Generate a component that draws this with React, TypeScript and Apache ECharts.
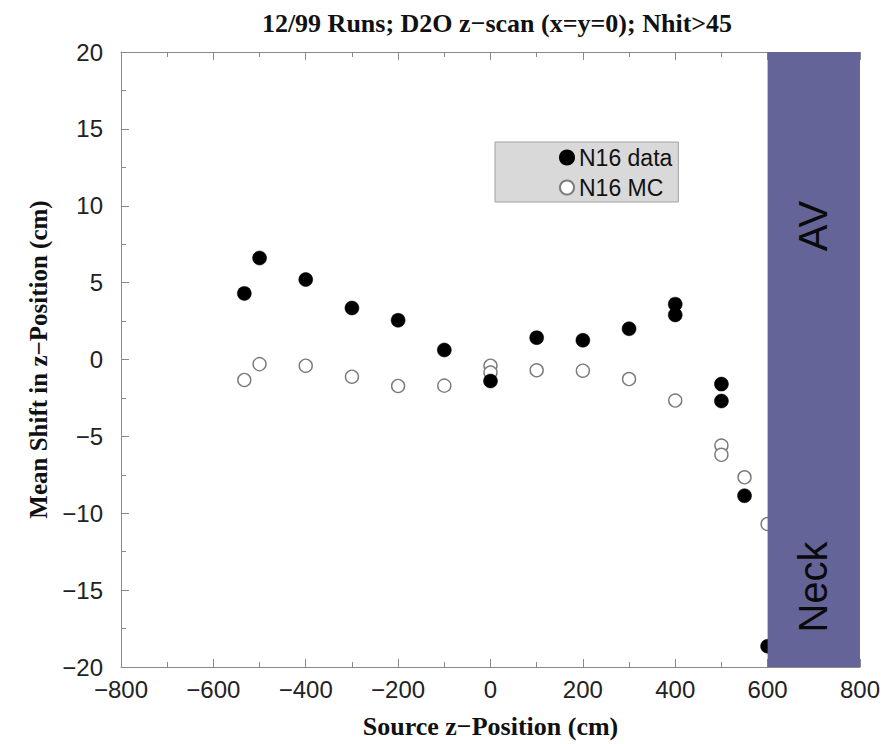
import React, { useEffect, useRef } from "react";
import * as echarts from "echarts";

const titleText = "12/99 Runs; D2O z\u2212scan (x=y=0); Nhit>45";
const xName = "Source z\u2212Position (cm)";
const yName = "Mean Shift in z\u2212Position (cm)";

const dataX = [-533, -500, -400, -300, -200, -100, 0, 100, 200, 300, 400, 400, 500, 500, 550, 600];
const dataY = [4.3, 6.6, 5.2, 3.35, 2.55, 0.62, -1.4, 1.42, 1.25, 2.0, 3.6, 2.9, -1.6, -2.7, -8.86, -18.65];

const mcX = [-533, -500, -400, -300, -200, -100, 0, 0, 100, 200, 300, 400, 500, 500, 550, 600];
const mcY = [-1.33, -0.3, -0.4, -1.12, -1.72, -1.7, -0.4, -0.85, -0.7, -0.73, -1.27, -2.67, -5.6, -6.2, -7.66, -10.7];

const regionX = [600, 800];
const regionLabels = ["AV", "Neck"];
const seriesNames = ["N16 data", "N16 MC"];

const minus = (v: number) => String(v).replace("-", "\u2212");

export default function App() {
  const ref = useRef<HTMLDivElement>(null);
  useEffect(() => {
    if (!ref.current) return;
    const chart = echarts.init(ref.current, undefined, { renderer: "svg" });
    const axisLine = { show: true, onZero: false, lineStyle: { color: "#8a8a8a", width: 1 } };
    const labelFont = { fontFamily: "Liberation Sans", fontSize: 24, color: "#222" };
    const nameFont = { fontFamily: "Liberation Serif", fontWeight: "bold" as const, fontSize: 25, color: "#111" };
    const tick = { show: true, inside: true, length: 8, lineStyle: { color: "#8a8a8a" } };
    const minorTick = { show: true, splitNumber: 2, length: 5, lineStyle: { color: "#8a8a8a" } };
    chart.setOption({
      animation: false,
      backgroundColor: "#fff",
      title: {
        text: titleText,
        left: 492,
        textAlign: "center",
        top: 5,
        textStyle: { fontFamily: "Liberation Serif", fontWeight: "bold", fontSize: 26, color: "#111" },
      },
      grid: { left: 121, right: 21, top: 52, bottom: 72, containLabel: false },
      legend: {
        orient: "vertical",
        left: 495,
        top: 142,
        padding: [4, 6, 3, 64],
        itemGap: 7,
        itemWidth: 14,
        itemHeight: 14,
        itemTextGap: 5,
        backgroundColor: "#d9d9d9",
        borderColor: "#a0a0a0",
        borderWidth: 1,
        borderRadius: 0,
        textStyle: { fontFamily: "Liberation Sans", fontSize: 23, color: "#111" },
        data: seriesNames.map((n) => ({ name: n, icon: "circle" })),
      },
      xAxis: [
        {
          type: "value",
          min: -800,
          max: 800,
          interval: 200,
          position: "bottom",
          name: xName,
          nameLocation: "middle",
          nameGap: 46,
          nameTextStyle: { ...nameFont, fontSize: 26 },
          axisLine,
          axisTick: tick,
          minorTick,
          splitLine: { show: false },
          axisLabel: { ...labelFont, margin: 10, formatter: minus },
        },
        {
          type: "value",
          min: -800,
          max: 800,
          interval: 200,
          position: "top",
          axisLine,
          axisTick: tick,
          minorTick,
          splitLine: { show: false },
          axisLabel: { show: false },
        },
      ],
      yAxis: {
        type: "value",
        min: -20,
        max: 20,
        interval: 5,
        name: yName,
        nameLocation: "middle",
        nameGap: 70,
        nameTextStyle: nameFont,
        axisLine,
        axisTick: tick,
        minorTick,
        splitLine: { show: false },
        axisLabel: { ...labelFont, margin: 18, formatter: minus },
      },
      series: [
        {
          name: seriesNames[0],
          type: "scatter",
          z: 3,
          symbol: "circle",
          symbolSize: 14,
          itemStyle: { color: "#000", borderColor: "#000", borderWidth: 0.5, opacity: 1 },
          data: dataX.map((x, i) => [x, dataY[i]]),
        },
        {
          name: seriesNames[1],
          type: "scatter",
          z: 2,
          symbol: "circle",
          symbolSize: 13,
          itemStyle: { color: "#fff", borderColor: "#7a7a7a", borderWidth: 1.4, opacity: 1 },
          data: mcX.map((x, i) => [x, mcY[i]]),
        },
        {
          name: "region",
          type: "scatter",
          z: 10,
          data: [],
          silent: true,
          markArea: {
            silent: true,
            z: 10,
            itemStyle: { color: "#646498", opacity: 1 },
            data: [[{ xAxis: regionX[0], yAxis: -20 }, { xAxis: regionX[1], yAxis: 20 }]],
          },
        },
      ],
      graphic: [
        {
          type: "text",
          x: 813,
          y: 226,
          rotation: Math.PI / 2,
          z: 100,
          style: {
            text: regionLabels[0],
            fontFamily: "Liberation Sans",
            fontSize: 40,
            fill: "#0a0a0a",
            textAlign: "center",
            textVerticalAlign: "middle",
          },
        },
        {
          type: "text",
          x: 813,
          y: 587,
          rotation: Math.PI / 2,
          z: 100,
          style: {
            text: regionLabels[1],
            fontFamily: "Liberation Sans",
            fontSize: 40,
            fill: "#0a0a0a",
            textAlign: "center",
            textVerticalAlign: "middle",
          },
        },
      ],
    });
    return () => chart.dispose();
  }, []);
  return <div ref={ref} style={{ width: 883, height: 744, position: "absolute", left: 0, top: 0 }} />;
}
